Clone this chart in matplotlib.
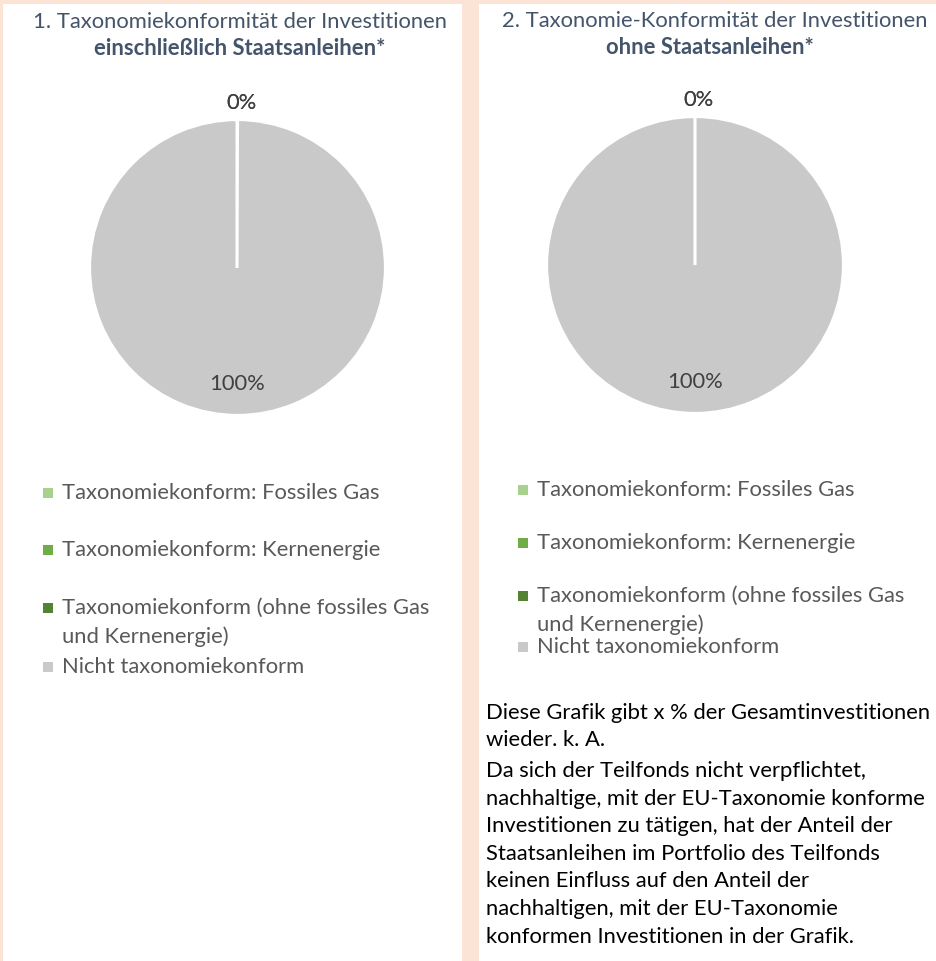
import matplotlib
matplotlib.use("Agg")
import matplotlib.pyplot as plt
from matplotlib.patches import Rectangle
import numpy as np

plt.rcParams['font.family'] = ['Lato', 'DejaVu Sans']

# ---- data -------------------------------------------------------------
categories = [
    "Taxonomiekonform: Fossiles Gas",
    "Taxonomiekonform: Kernenergie",
    "Taxonomiekonform (ohne fossiles Gas\nund Kernenergie)",
    "Nicht taxonomiekonform",
]
values_incl = [0, 0, 0, 100]   # including sovereign bonds
values_excl = [0, 0, 0, 100]   # excluding sovereign bonds
colors = ["#A9D18E", "#70AD47", "#548235", "#C9C9C9"]

title1_a = "1. Taxonomiekonformität der Investitionen"
title1_b = "einschließlich Staatsanleihen*"
title2_a = "2. Taxonomie-Konformität der Investitionen"
title2_b = "ohne Staatsanleihen*"

note_1 = ["Diese Grafik gibt x % der Gesamtinvestitionen",
          "wieder. k. A."]
note_2 = ["Da sich der Teilfonds nicht verpflichtet,",
          "nachhaltige, mit der EU-Taxonomie konforme",
          "Investitionen zu tätigen, hat der Anteil der",
          "Staatsanleihen im Portfolio des Teilfonds",
          "keinen Einfluss auf den Anteil der",
          "nachhaltigen, mit der EU-Taxonomie",
          "konformen Investitionen in der Grafik."]

# ---- figure -----------------------------------------------------------
W, H = 937, 961
fig = plt.figure(figsize=(W / 100, H / 100), dpi=100, facecolor="#FBE4D5")


def fx(x):
    return x / W


def fy(y):
    return 1 - y / H


# white panels on the peach page
for x0, x1 in [(3, 462), (479, 937)]:
    fig.patches.append(Rectangle((fx(x0), 0), fx(x1) - fx(x0), fy(4),
                                 transform=fig.transFigure,
                                 facecolor="white", edgecolor="none", zorder=-5))

TITLE_C = "#44546A"
LEG_C = "#595959"
LBL_C = "#404040"
FS = 15.8


def draw_pie(values, cx, cy, r):
    ax = fig.add_axes([fx(cx - r), fy(cy + r), 2 * r / W, 2 * r / H])
    ax.patch.set_alpha(0)
    wedges, _ = ax.pie(values, colors=colors, startangle=90, counterclock=False,
                       radius=1.0,
                       wedgeprops=dict(edgecolor="white", linewidth=1.6))
    ax.set_xlim(-1, 1)
    ax.set_ylim(-1, 1)
    ax.axis("off")
    # white separators along every wedge boundary (also for a full circle)
    for w in wedges:
        for th in (w.theta1, w.theta2):
            t = np.deg2rad(th)
            ax.plot([0, np.cos(t)], [0, np.sin(t)], color="white", lw=1.6,
                    solid_capstyle="butt")
    total = float(sum(values))
    seen = set()
    for w, v in zip(wedges, values):
        mid = np.deg2rad((w.theta1 + w.theta2) / 2)
        frac = v / total
        dist = 1.13 if frac < 0.05 else 0.78
        pos = (round(dist * np.cos(mid), 3), round(dist * np.sin(mid), 3))
        txt = f"{v / total * 100:.0f}%"
        if (pos, txt) in seen:
            continue
        seen.add((pos, txt))
        ax.text(pos[0] + (0.025 if frac < 0.05 else 0), pos[1] - 0.012, txt,
                ha="center", va="center", fontsize=FS, color=LBL_C,
                clip_on=False)


def draw_legend(x_sq, x_txt, rows):
    # rows: y centre of first text line of each entry
    for (label, col, y) in zip(categories, colors, rows):
        fig.patches.append(Rectangle((fx(x_sq - 5), fy(y + 5)), 10 / W, 10 / H,
                                     transform=fig.transFigure,
                                     facecolor=col, edgecolor="none"))
        lines = label.split("\n")
        for k, ln in enumerate(lines):
            fig.text(fx(x_txt), fy(y + k * 29), ln, ha="left", va="center",
                     fontsize=FS, color=LEG_C)


def draw_lines(x, y0, lines, step):
    for k, ln in enumerate(lines):
        fig.text(fx(x), fy(y0 + k * step), ln, ha="left", va="baseline",
                 fontsize=FS, color="black")


# titles
fig.text(fx(240), fy(28), title1_a, ha="center", va="baseline",
         fontsize=FS, color=TITLE_C)
fig.text(fx(240), fy(55), title1_b, ha="center", va="baseline",
         fontsize=FS, color=TITLE_C, fontweight="bold")
fig.text(fx(715), fy(27), title2_a, ha="center", va="baseline",
         fontsize=FS, color=TITLE_C)
fig.text(fx(710), fy(54), title2_b, ha="center", va="baseline",
         fontsize=FS, color=TITLE_C, fontweight="bold")

# pies
draw_pie(values_incl, 237.5, 267.5, 147.5)
draw_pie(values_excl, 695, 265, 148)

# legends
draw_legend(48, 62, [493, 550, 608, 667])
draw_legend(523, 537, [490, 543, 596, 647])

# notes
draw_lines(486, 719, note_1, 27.5)
draw_lines(486, 777, note_2, 27.6)

fig.savefig("out.png", dpi=100, facecolor=fig.get_facecolor())
